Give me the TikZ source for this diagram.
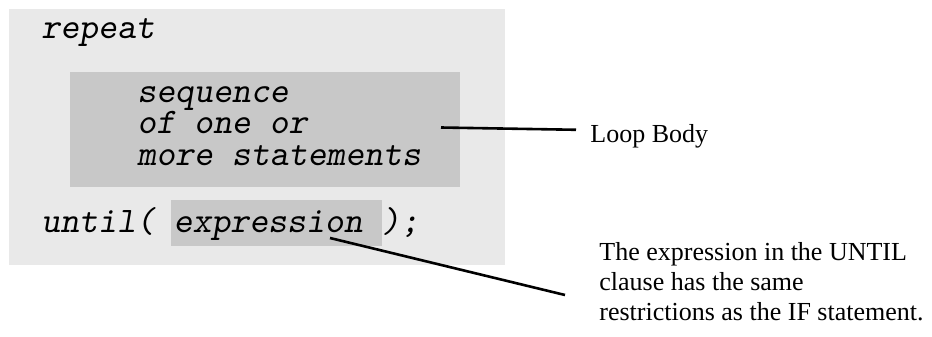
\documentclass[tikz,border=0pt]{standalone}
\usepackage{fontspec}
\setmainfont{Liberation Serif}
\newfontfamily\codefont{lmmonoslant10-regular.otf}
\usetikzlibrary{calc}

\definecolor{panelgray}{RGB}{233,233,233}
\definecolor{bodygray}{RGB}{200,200,200}

\begin{document}
\begin{tikzpicture}[x=0.5pt, y=-0.5pt,
    code/.style={font=\codefont\fontsize{18}{15.75}\selectfont, inner sep=0, anchor=base west},
    note/.style={font=\fontsize{13}{15}\selectfont, inner sep=0, align=left},
    leader/.style={line width=1.3pt}]
    \useasboundingbox (0,0) rectangle (932,337);

    % Code panel and highlighted parts
    \fill [panelgray] (9,9) rectangle (505,265);
    \fill [bodygray] (70,72) rectangle (460,187);
    \fill [bodygray] (171,200) rectangle (382,246);

    \node [code] (rep) at (41,39) {repeat};
    \node [code, align=left] (seq) at (137,165) {sequence\\of one or\\more statements};
    \node [code] (until) at (41,232) {until( expression );};

    % Remarks on the right
    \node [note, anchor=base west] (loop) at (590,142) {Loop Body};
    \node [note, anchor=north west] (remark) at (599,242)
        {The expression in the UNTIL\\clause has the same\\restrictions as the IF statement.};

    \coordinate (bodypt) at (441,127.5);
    \coordinate (exprpt) at (330,238);
    \draw [leader] (bodypt) -- ($(loop.west)+(-14,-6)$);
    \draw [leader] (exprpt) -- ($(remark.north west)+(-34,53)$);
\end{tikzpicture}
\end{document}
